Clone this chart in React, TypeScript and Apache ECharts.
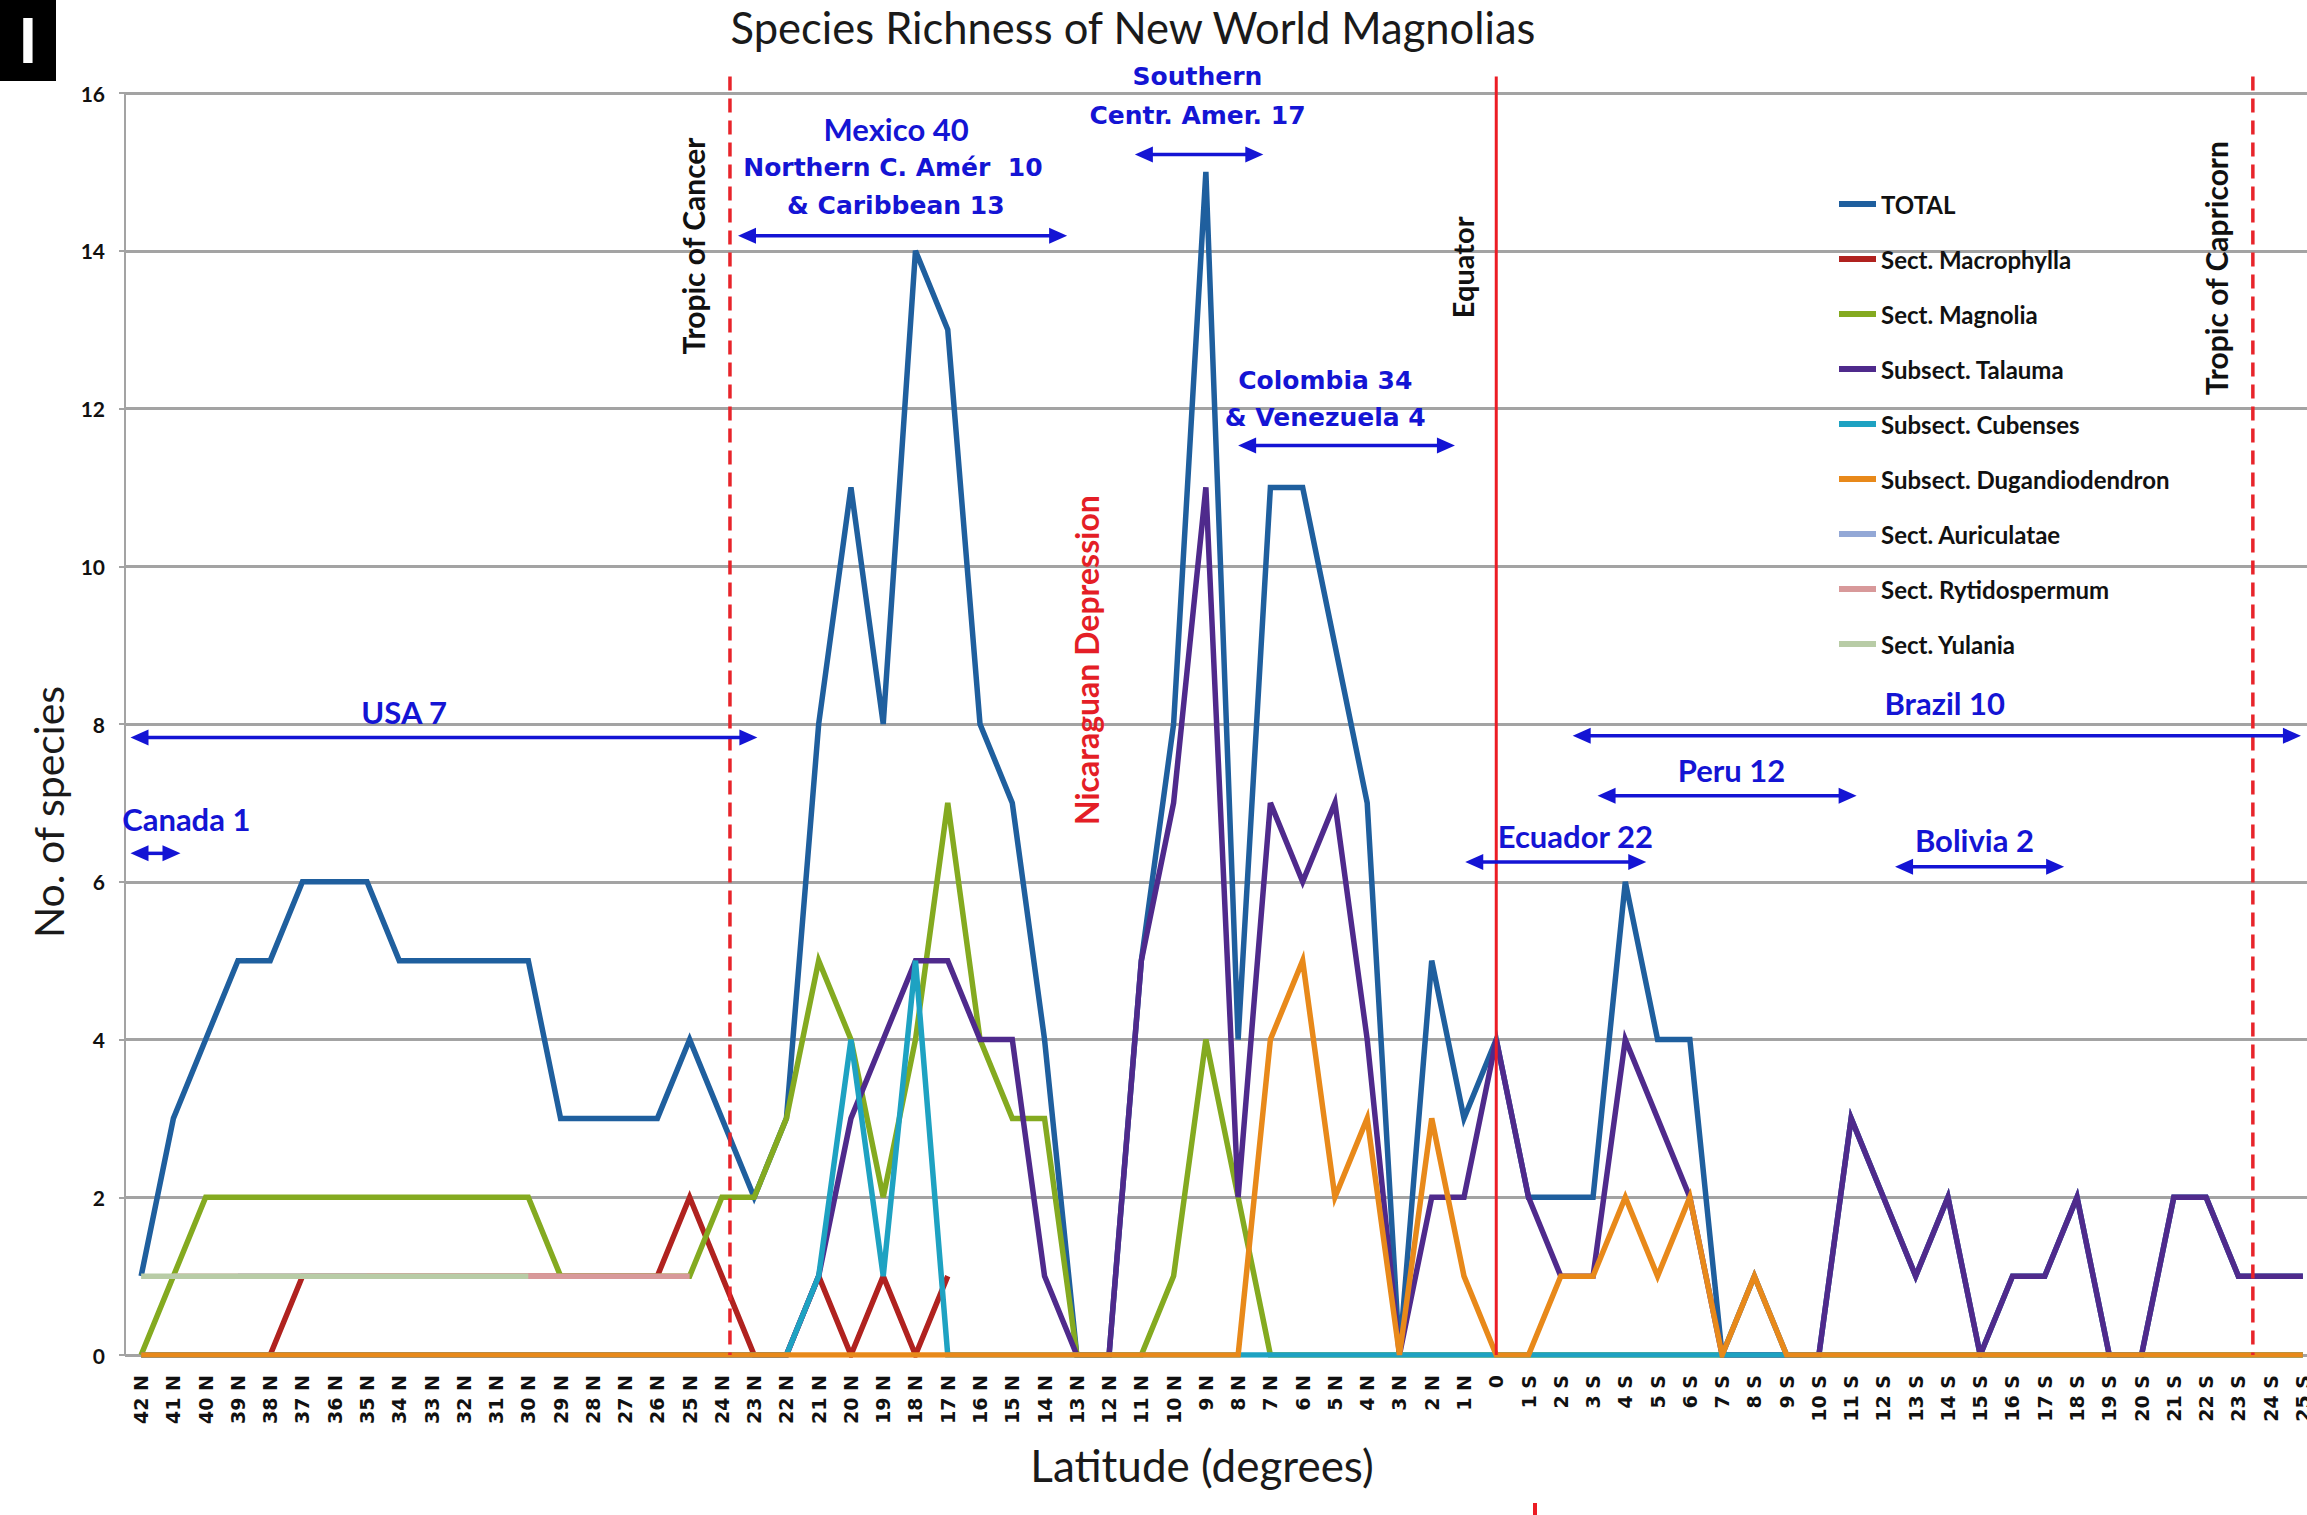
import React, { useEffect, useRef } from "react";
import * as echarts from "echarts";

const _ = null;

const categories = [
  "42 N", "41 N", "40 N", "39 N", "38 N", "37 N", "36 N", "35 N", "34 N", "33 N",
  "32 N", "31 N", "30 N", "29 N", "28 N", "27 N", "26 N", "25 N", "24 N", "23 N",
  "22 N", "21 N", "20 N", "19 N", "18 N", "17 N", "16 N", "15 N", "14 N", "13 N",
  "12 N", "11 N", "10 N", "9 N", "8 N", "7 N", "6 N", "5 N", "4 N", "3 N",
  "2 N", "1 N", "0", "1 S", "2 S", "3 S", "4 S", "5 S", "6 S", "7 S",
  "8 S", "9 S", "10 S", "11 S", "12 S", "13 S", "14 S", "15 S", "16 S", "17 S",
  "18 S", "19 S", "20 S", "21 S", "22 S", "23 S", "24 S", "25 S",
];

const yTicks = [0, 2, 4, 6, 8, 10, 12, 14, 16];

const total = [
  1, 3, 4, 5, 5, 6, 6, 6, 5, 5,
  5, 5, 5, 3, 3, 3, 3, 4, 3, 2,
  3, 8, 11, 8, 14, 13, 8, 7, 4, 0,
  0, 5, 8, 15, 4, 11, 11, 9, 7, 0,
  5, 3, 4, 2, 2, 2, 6, 4, 4, 0,
  1, 0, 0, 3, 2, 1, 2, 0, 1, 1,
  2, 0, 0, 2, 2, 1, 1, 1,
];

const macrophylla = [
  _, _, _, _, 0, 1, 1, 1, 1, 1,
  1, 1, 1, 1, 1, 1, 1, 2, 1, 0,
  0, 1, 0, 1, 0, 1, _, _, _, _,
  _, _, _, _, _, _, _, _, _, _,
  _, _, _, _, _, _, _, _, _, _,
  _, _, _, _, _, _, _, _, _, _,
  _, _, _, _, _, _, _, _,
];

const magnolia = [
  0, 1, 2, 2, 2, 2, 2, 2, 2, 2,
  2, 2, 2, 1, 1, 1, 1, 1, 2, 2,
  3, 5, 4, 2, 4, 7, 4, 3, 3, 0,
  0, 0, 1, 4, 2, 0, 0, 0, 0, 0,
  0, 0, 0, 0, 0, 0, 0, 0, 0, 0,
  0, 0, 0, 0, 0, 0, 0, 0, 0, 0,
  0, 0, 0, 0, 0, 0, 0, 0,
];

const talauma = [
  0, 0, 0, 0, 0, 0, 0, 0, 0, 0,
  0, 0, 0, 0, 0, 0, 0, 0, 0, 0,
  0, 1, 3, 4, 5, 5, 4, 4, 1, 0,
  0, 5, 7, 11, 2, 7, 6, 7, 4, 0,
  2, 2, 4, 2, 1, 1, 4, 3, 2, 0,
  0, 0, 0, 3, 2, 1, 2, 0, 1, 1,
  2, 0, 0, 2, 2, 1, 1, 1,
];

const cubenses = [
  0, 0, 0, 0, 0, 0, 0, 0, 0, 0,
  0, 0, 0, 0, 0, 0, 0, 0, 0, 0,
  0, 1, 4, 1, 5, 0, 0, 0, 0, 0,
  0, 0, 0, 0, 0, 0, 0, 0, 0, 0,
  0, 0, 0, 0, 0, 0, 0, 0, 0, 0,
  0, 0, 0, 0, 0, 0, 0, 0, 0, 0,
  0, 0, 0, 0, 0, 0, 0, 0,
];

const dugandiodendron = [
  0, 0, 0, 0, 0, 0, 0, 0, 0, 0,
  0, 0, 0, 0, 0, 0, 0, 0, 0, 0,
  0, 0, 0, 0, 0, 0, 0, 0, 0, 0,
  0, 0, 0, 0, 0, 4, 5, 2, 3, 0,
  3, 1, 0, 0, 1, 1, 2, 1, 2, 0,
  1, 0, 0, 0, 0, 0, 0, 0, 0, 0,
  0, 0, 0, 0, 0, 0, 0, 0,
];

const auriculatae = [
  _, _, _, 1, 1, 1, 1, 1, _, _,
  _, _, _, _, _, _, _, _, _, _,
  _, _, _, _, _, _, _, _, _, _,
  _, _, _, _, _, _, _, _, _, _,
  _, _, _, _, _, _, _, _, _, _,
  _, _, _, _, _, _, _, _, _, _,
  _, _, _, _, _, _, _, _,
];

const rytidospermum = [
  _, 1, 1, 1, 1, 1, 1, 1, 1, 1,
  1, 1, 1, 1, 1, 1, 1, 1, _, _,
  _, _, _, _, _, _, _, _, _, _,
  _, _, _, _, _, _, _, _, _, _,
  _, _, _, _, _, _, _, _, _, _,
  _, _, _, _, _, _, _, _, _, _,
  _, _, _, _, _, _, _, _,
];

const yulania = [
  1, 1, 1, 1, 1, 1, 1, 1, 1, 1,
  1, 1, 1, _, _, _, _, _, _, _,
  _, _, _, _, _, _, _, _, _, _,
  _, _, _, _, _, _, _, _, _, _,
  _, _, _, _, _, _, _, _, _, _,
  _, _, _, _, _, _, _, _, _, _,
  _, _, _, _, _, _, _, _,
];

const seriesNames = [
  "TOTAL",
  "Sect. Macrophylla",
  "Sect. Magnolia",
  "Subsect. Talauma",
  "Subsect. Cubenses",
  "Subsect. Dugandiodendron",
  "Sect. Auriculatae",
  "Sect. Rytidospermum",
  "Sect. Yulania",
];
const seriesValues = [
  total, macrophylla, magnolia, talauma, cubenses,
  dugandiodendron, auriculatae, rytidospermum, yulania,
];
const seriesColors = [
  "#1F5F9E", "#B0221F", "#84AA20", "#4F2A8C", "#1EA2C2",
  "#E8891A", "#93A8D6", "#D8999A", "#B8CCA6",
];

// Annotation layout (category index positions, value positions)
const regionArrows = [
  { from: -0.33, to: 1.22, v: 6.36 },
  { from: -0.33, to: 19.1, v: 7.83 },
  { from: 18.5, to: 28.7, v: 14.19 },
  { from: 30.8, to: 34.78, v: 15.22 },
  { from: 34.0, to: 40.72, v: 11.53 },
  { from: 41.04, to: 46.65, v: 6.25 },
  { from: 44.37, to: 66.94, v: 7.85 },
  { from: 45.14, to: 53.17, v: 7.09 },
  { from: 54.36, to: 59.6, v: 6.19 },
];
const regionLabels = [
  { text: "Canada 1", at: 1.4, v: 6.79, wide: false },
  { text: "USA 7", at: 8.15, v: 8.15, wide: false },
  { text: "Mexico 40", at: 23.4, v: 15.54, wide: false },
  { text: "Northern C. Amér  10", at: 23.3, v: 15.05, wide: true },
  { text: "& Caribbean 13", at: 23.39, v: 14.57, wide: true },
  { text: "Southern", at: 32.74, v: 16.21, wide: true },
  { text: "Centr. Amer. 17", at: 32.74, v: 15.72, wide: true },
  { text: "Colombia 34", at: 36.7, v: 12.35, wide: true },
  { text: "& Venezuela 4", at: 36.7, v: 11.88, wide: true },
  { text: "Ecuador 22", at: 44.45, v: 6.58, wide: false },
  { text: "Brazil 10", at: 55.9, v: 8.26, wide: false },
  { text: "Peru 12", at: 49.29, v: 7.42, wide: false },
  { text: "Bolivia 2", at: 56.82, v: 6.53, wide: false },
];
const refLines = [
  { at: 18.25, dashed: true },
  { at: 42, dashed: false },
  { at: 65.45, dashed: true },
];
const refLabels = [
  { text: "Tropic of Cancer", at: 17.1, v: 14.06, color: "#111", size: 30 },
  { text: "Equator", at: 40.95, v: 13.79, color: "#111", size: 29 },
  { text: "Tropic of Capricorn", at: 64.3, v: 13.78, color: "#111", size: 30 },
  { text: "Nicaraguan Depression", at: 29.31, v: 8.81, color: "#E41E26", size: 32 },
];

const BLUE = "#1414D4";
const RED = "#EC1C24";
const Y_MAX = 16;

function buildGraphics(chart: any) {
  const n = categories.length - 1;
  const p0 = chart.convertToPixel({ gridIndex: 0 }, [0, 0]);
  const p1 = chart.convertToPixel({ gridIndex: 0 }, [n, Y_MAX]);
  const X = (i: number) => p0[0] + ((p1[0] - p0[0]) * i) / n;
  const Y = (v: number) => p0[1] + ((p1[1] - p0[1]) * v) / Y_MAX;
  const els: any[] = [];

  // panel letter
  els.push({ type: "rect", shape: { x: 0, y: 0, width: 56, height: 81 }, style: { fill: "#000" } });
  els.push({
    type: "text", x: 28, y: 41,
    style: { text: "I", fill: "#fff", fontSize: 64, lineHeight: 64, fontWeight: "bold", fontFamily: "Liberation Sans", align: "center", verticalAlign: "middle", textAlign: "center", textVerticalAlign: "middle" },
  });
  // title
  els.push({
    type: "text", x: 1133, y: 27,
    style: { text: "Species Richness of New World Magnolias", fill: "#1a1a1a", fontSize: 43.5, lineHeight: 44, fontFamily: "Lato", align: "center", verticalAlign: "middle", textAlign: "center", textVerticalAlign: "middle" },
  });

  refLines.forEach((r) => {
    els.push({
      type: "line", z: 50,
      shape: { x1: X(r.at), y1: Y(16.21), x2: X(r.at), y2: Y(0) },
      style: r.dashed
        ? { stroke: "#E8242A", lineWidth: 3.5, lineDash: [14, 8] }
        : { stroke: RED, lineWidth: 3 },
    });
  });
  // small stray red mark below the axis title
  els.push({ type: "line", shape: { x1: 1535, y1: 1503, x2: 1535, y2: 1515 }, style: { stroke: RED, lineWidth: 4 } });

  refLabels.forEach((t) => {
    els.push({
      type: "text", x: X(t.at), y: Y(t.v), rotation: Math.PI / 2, z: 60,
      style: { text: t.text, fill: t.color, fontSize: t.size, fontWeight: "bold", fontFamily: "Lato", align: "center", verticalAlign: "middle", textAlign: "center", textVerticalAlign: "middle" },
    });
  });

  const head = 18;
  const hw = 8;
  regionArrows.forEach((a) => {
    const x1 = X(a.from);
    const x2 = X(a.to);
    const y = Y(a.v);
    els.push({ type: "line", z: 60, shape: { x1: x1 + head - 2, y1: y, x2: x2 - head + 2, y2: y }, style: { stroke: BLUE, lineWidth: 3.5 } });
    els.push({ type: "polygon", z: 60, shape: { points: [[x1, y], [x1 + head, y - hw], [x1 + head, y + hw]] }, style: { fill: BLUE } });
    els.push({ type: "polygon", z: 60, shape: { points: [[x2, y], [x2 - head, y - hw], [x2 - head, y + hw]] }, style: { fill: BLUE } });
  });

  regionLabels.forEach((l) => {
    els.push({
      type: "text", x: X(l.at), y: Y(l.v), z: 60,
      style: {
        text: l.text, fill: BLUE, fontWeight: "bold",
        fontSize: l.wide ? 25 : 31,
        fontFamily: l.wide ? "DejaVu Sans" : "Lato",
        align: "center", verticalAlign: "middle", textAlign: "center", textVerticalAlign: "middle",
      },
    });
  });
  return els;
}

export default function App() {
  const ref = useRef<HTMLDivElement>(null);
  useEffect(() => {
    document.body.style.margin = "0";
    const chart = echarts.init(ref.current as HTMLDivElement, null, { renderer: "svg" });
    const option: any = {
      animation: false,
      backgroundColor: "#ffffff",
      grid: { left: 125, top: 93, width: 2194, height: 1262, containLabel: false, outerBoundsMode: "none" },
      legend: {
        orient: "vertical", left: 1834, top: 187,
        itemWidth: 37, itemHeight: 6, itemGap: 31, icon: "rect",
        selectedMode: false, data: seriesNames,
        textStyle: { fontFamily: "Lato", fontWeight: "bold", fontSize: 24, lineHeight: 24, color: "#111" },
      },
      xAxis: {
        type: "category", data: categories, boundaryGap: true,
        name: "Latitude (degrees)", nameLocation: "middle", nameGap: 88,
        nameTextStyle: { fontFamily: "Lato", fontSize: 44, color: "#1a1a1a", padding: [0, 40, 0, 0] },
        axisLine: { show: true, lineStyle: { color: "#A3A3A3", width: 2 } },
        axisTick: { show: false },
        axisLabel: { interval: 0, rotate: 90, margin: 20, fontFamily: "DejaVu Sans", fontWeight: "bold", fontSize: 19, color: "#111" },
        splitLine: { show: false },
      },
      yAxis: {
        type: "value", min: yTicks[0], max: yTicks[yTicks.length - 1], interval: 2,
        name: "No. of species", nameLocation: "middle", nameGap: 56, nameRotate: 90,
        nameTextStyle: { fontFamily: "Lato", fontSize: 41, color: "#1a1a1a", padding: [0, 176, 0, 0] },
        axisLine: { show: true, lineStyle: { color: "#A3A3A3", width: 2 } },
        axisTick: { show: true, length: 6, lineStyle: { color: "#A3A3A3", width: 2 } },
        axisLabel: { margin: 20, fontFamily: "Lato", fontWeight: "bold", fontSize: 21, color: "#111" },
        splitLine: { show: true, lineStyle: { color: "#A3A3A3", width: 3 } },
      },
      series: seriesNames.map((name, k) => ({
        name, type: "line", data: seriesValues[k],
        symbol: "none", showSymbol: false, connectNulls: false, silent: true,
        color: seriesColors[k],
        lineStyle: { color: seriesColors[k], width: 5.5, join: "miter" },
        emphasis: { disabled: true },
      })),
    };
    chart.setOption(option);
    chart.setOption({ graphic: buildGraphics(chart) });
    return () => chart.dispose();
  }, []);
  return <div ref={ref} style={{ position: "fixed", left: 0, top: 0, width: 2307, height: 1515 }} />;
}
